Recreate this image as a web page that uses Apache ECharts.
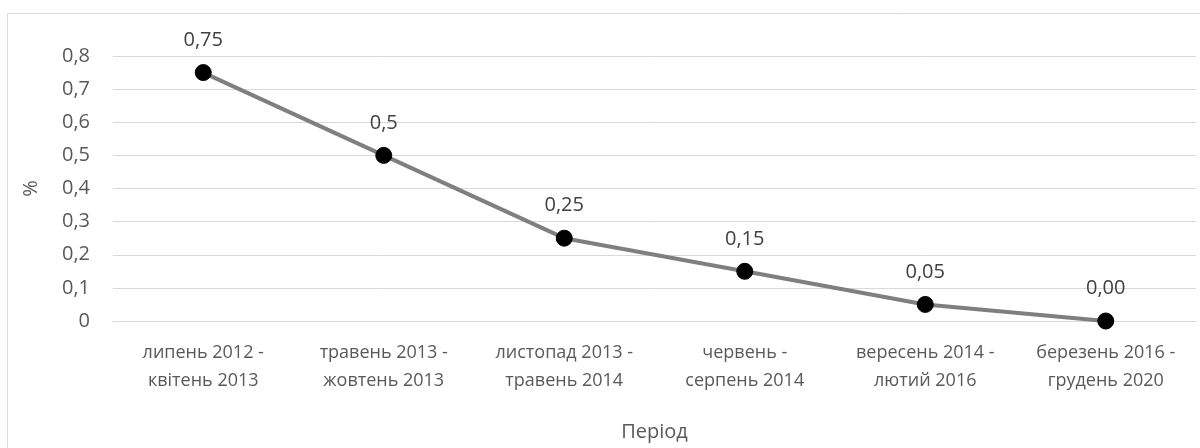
<!DOCTYPE html>
<html>
<head>
<meta charset="utf-8">
<script src="https://cdn.jsdelivr.net/npm/echarts@6/dist/echarts.min.js"></script>
<style>html,body{margin:0;padding:0;background:#fff}#c{width:1200px;height:448px}</style>
</head>
<body>
<div id="c"></div>
<script>
const categories = ['липень 2012 -\nквітень 2013','травень 2013 -\nжовтень 2013','листопад 2013 -\nтравень 2014','червень -\nсерпень 2014','вересень 2014 -\nлютий 2016','березень 2016 -\nгрудень 2020'];
const values = [0.75, 0.5, 0.25, 0.15, 0.05, 0.0];
const valueLabels = ['0,75','0,5','0,25','0,15','0,05','0,00'];
const yTickLabels = ['0','0,1','0,2','0,3','0,4','0,5','0,6','0,7','0,8'];

const FONT = '"Open Sans", "Noto Sans", sans-serif';
const chart = echarts.init(document.getElementById('c'), null, {renderer:'canvas'});
chart.setOption({
  animation:false,
  backgroundColor:'#fff',
  graphic:[{type:'rect', shape:{x:7.5,y:13.5,width:1200,height:440}, style:{fill:'none',stroke:'#d9d9d9',lineWidth:1}, silent:true}],
  grid:{left:113, right:4, top:56, bottom:127},
  xAxis:{
    type:'category', data:categories, boundaryGap:true,
    axisLine:{lineStyle:{color:'#d9d9d9',width:1}},
    axisTick:{show:false},
    axisLabel:{color:'#595959', fontFamily:FONT, fontSize:18, lineHeight:28, margin:18, interval:0},
    name:'Період', nameLocation:'middle', nameGap:101,
    nameTextStyle:{color:'#595959', fontFamily:FONT, fontSize:20}
  },
  yAxis:{
    type:'value', min:0, max:0.8, interval:0.1,
    axisLine:{show:false}, axisTick:{show:false},
    splitLine:{lineStyle:{color:'#d9d9d9',width:1}},
    axisLabel:{color:'#595959', fontFamily:FONT, fontSize:20, margin:23,
      formatter:(v)=>yTickLabels[Math.round(v*10)]},
    name:'%', nameLocation:'middle', nameGap:72, nameRotate:90,
    nameTextStyle:{color:'#595959', fontFamily:FONT, fontSize:20}
  },
  series:[{
    type:'line', data:values,
    lineStyle:{color:'#7f7f7f', width:4},
    itemStyle:{color:'#000', borderColor:'#000'},
    symbol:'circle', symbolSize:16, showAllSymbol:true,
    label:{show:true, position:'top', distance:14, color:'#404040', fontFamily:FONT, fontSize:20,
      formatter:(p)=>valueLabels[p.dataIndex]}
  }]
});
</script>
</body>
</html>
